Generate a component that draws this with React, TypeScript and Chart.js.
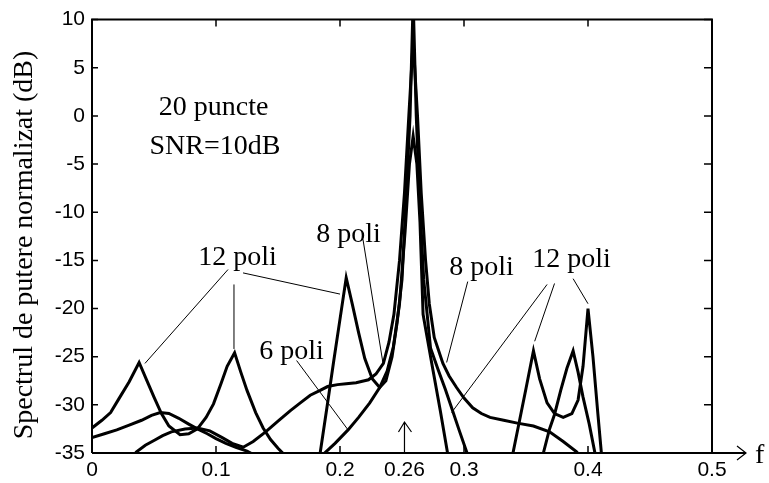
import React, { useEffect, useRef } from 'react';
import { Chart, registerables } from 'chart.js';

Chart.register(...registerables);

// 12 poles
const f12 = [0, 0.008, 0.015, 0.022, 0.03, 0.038, 0.044, 0.05, 0.056, 0.062, 0.071, 0.078, 0.085, 0.092, 0.098, 0.104, 0.109, 0.115, 0.12, 0.125, 0.132, 0.138, 0.144, 0.15, 0.156, 0.165, 0.175, 0.184, 0.19, 0.195, 0.2, 0.205, 0.21, 0.215, 0.22, 0.226, 0.232, 0.237, 0.242, 0.246, 0.25, 0.2535, 0.2565, 0.259, 0.2615, 0.264, 0.2675, 0.273, 0.279, 0.285, 0.29, 0.296, 0.303, 0.31, 0.32, 0.33, 0.3395, 0.345, 0.35, 0.356, 0.361, 0.367, 0.373, 0.38, 0.387, 0.392, 0.396, 0.4, 0.404, 0.408, 0.411, 0.416];
const p12 = [-32.4, -31.6, -30.8, -29.3, -27.6, -25.6, -27.4, -29.2, -30.9, -32.2, -33.1, -33.0, -32.5, -31.3, -29.9, -27.8, -26.0, -24.6, -26.6, -28.5, -30.8, -32.4, -33.6, -34.5, -35.3, -37, -37.5, -35.0, -29.8, -25.4, -21.1, -16.8, -19.6, -22.5, -25.2, -27.3, -28.2, -27.5, -25, -21.5, -17, -8, 0, 12, 0, -8, -17, -24.1, -26.3, -28.4, -30.3, -32.6, -35.2, -37.5, -38.5, -37.5, -35.0, -31.5, -28.3, -24.4, -27.3, -29.8, -30.9, -31.3, -30.9, -29.5, -26, -20, -25, -31, -35.3, -40];

// 8 poles
const f8 = [0, 0.02, 0.0357, 0.043, 0.05, 0.057, 0.064, 0.075, 0.085, 0.095, 0.105, 0.113, 0.122, 0.13, 0.14, 0.15, 0.16, 0.168, 0.176, 0.184, 0.19, 0.198, 0.205, 0.213, 0.223, 0.229, 0.235, 0.2395, 0.2435, 0.248, 0.252, 0.2555, 0.259, 0.2625, 0.2655, 0.269, 0.272, 0.276, 0.283, 0.288, 0.294, 0.3, 0.307, 0.314, 0.321, 0.332, 0.343, 0.356, 0.369, 0.38, 0.391, 0.4];
const p8 = [-40, -38, -34.9, -34.2, -33.7, -33.2, -32.8, -32.5, -32.4, -32.7, -33.4, -34.0, -34.4, -33.8, -32.8, -31.7, -30.6, -29.8, -29.0, -28.5, -28.1, -27.9, -27.8, -27.7, -27.4, -26.8, -25.7, -23.5, -20.6, -15, -8, 0, 7.8, 0, -8, -15, -19.5, -23, -25.7, -27, -28.2, -29.3, -30.3, -30.9, -31.3, -31.6, -31.9, -32.2, -32.8, -33.8, -34.9, -37];

// 6 poles
const f6 = [0, 0.01, 0.02, 0.03, 0.04, 0.048, 0.055, 0.062, 0.07, 0.078, 0.085, 0.093, 0.1, 0.108, 0.116, 0.125, 0.135, 0.15, 0.165, 0.178, 0.186, 0.196, 0.2065, 0.215, 0.224, 0.232, 0.238, 0.243, 0.248, 0.2525, 0.256, 0.259, 0.262, 0.2645, 0.267, 0.27, 0.275, 0.281, 0.287, 0.295, 0.31, 0.33, 0.35, 0.358, 0.364, 0.369, 0.373, 0.378, 0.383, 0.388, 0.392, 0.396, 0.401, 0.4056, 0.41];
const p6 = [-33.4, -33.0, -32.6, -32.1, -31.6, -31.1, -30.8, -30.9, -31.4, -32.0, -32.5, -33.0, -33.5, -34.0, -34.4, -34.8, -35.5, -37, -37.5, -36.5, -35.2, -34.0, -32.6, -31.3, -29.8, -28.2, -26.5, -24, -19.5, -12, -5, -2.1, -5, -11, -20.6, -22.8, -26.4, -30.7, -35.2, -38, -40, -40, -38, -36.5, -35, -32.5, -31.0, -28.5, -26.2, -24.4, -26.6, -29.2, -32, -35, -38];

const xTicks = [0, 0.1, 0.2, 0.3, 0.4, 0.5];
const xTickLabels = ['0', '0.1', '0.2', '0.3', '0.4', '0.5'];
const yTicks = [10, 5, 0, -5, -10, -15, -20, -25, -30, -35];
const yTickLabels = ['10', '5', '0', '-5', '-10', '-15', '-20', '-25', '-30', '-35'];

const markerF = 0.252;
const markerLabel = '0.26';
const xAxisName = 'f';
const yAxisName = 'Spectrul de putere normalizat (dB)';

// annotation texts (centre x, baseline y in data units)
const noteTexts = ['20 puncte', 'SNR=10dB', '12 poli', '8 poli', '6 poli', '8 poli', '12 poli'];
const noteF = [0.098, 0.0992, 0.1173, 0.2069, 0.1609, 0.3141, 0.3867];
const noteDb = [0.11, -4.0, -15.43, -13.07, -25.22, -16.47, -15.64];

// leader lines [f1, db1, f2, db2]
const leaderF1 = [0.1097, 0.1145, 0.1218, 0.2185, 0.165, 0.303, 0.367, 0.373, 0.388];
const leaderDb1 = [-15.95, -17.5, -16.3, -12.8, -25.4, -17.2, -17.5, -17.4, -16.9];
const leaderF2 = [0.0427, 0.1145, 0.2, 0.2347, 0.2065, 0.286, 0.29, 0.357, 0.4];
const leaderDb2 = [-25.7, -24.2, -18.5, -25.7, -32.6, -25.6, -30.8, -23.4, -19.5];

const SERIF = '"Liberation Serif", "Times New Roman", serif';
const SANS = '"Liberation Sans", Arial, sans-serif';

const decorPlugin = {
  id: 'decor',
  afterDraw(chart: any) {
    const { ctx, chartArea, scales } = chart;
    const xs = scales.x;
    const ys = scales.y;
    const { left, right, top, bottom } = chartArea;
    ctx.save();
    ctx.strokeStyle = '#000';
    ctx.fillStyle = '#000';

    // box
    ctx.lineWidth = 2;
    ctx.beginPath();
    ctx.moveTo(left, bottom);
    ctx.lineTo(left, top);
    ctx.lineTo(right, top);
    ctx.lineTo(right, bottom);
    ctx.stroke();
    // bottom axis extended with arrow
    ctx.beginPath();
    ctx.moveTo(left, bottom);
    ctx.lineTo(right + 34, bottom);
    ctx.stroke();
    ctx.lineWidth = 1.2;
    ctx.beginPath();
    ctx.moveTo(right + 25, bottom - 7);
    ctx.lineTo(right + 34, bottom);
    ctx.lineTo(right + 25, bottom + 7);
    ctx.stroke();

    // inside ticks
    ctx.lineWidth = 1.5;
    const tl = 7;
    xTicks.forEach((v) => {
      const px = xs.getPixelForValue(v);
      ctx.beginPath();
      ctx.moveTo(px, bottom);
      ctx.lineTo(px, bottom - tl);
      ctx.moveTo(px, top);
      ctx.lineTo(px, top + tl);
      ctx.stroke();
    });
    yTicks.forEach((v) => {
      const py = ys.getPixelForValue(v);
      ctx.beginPath();
      ctx.moveTo(left, py);
      ctx.lineTo(left + 6, py);
      ctx.moveTo(right, py);
      ctx.lineTo(right - 8, py);
      ctx.stroke();
    });

    // 0.26 marker arrow
    const mx = xs.getPixelForValue(markerF);
    ctx.lineWidth = 1.2;
    ctx.beginPath();
    ctx.moveTo(mx, bottom);
    ctx.lineTo(mx, bottom - 31);
    ctx.moveTo(mx - 6, bottom - 21);
    ctx.lineTo(mx, bottom - 31);
    ctx.lineTo(mx + 7, bottom - 21);
    ctx.stroke();
    ctx.font = '21px ' + SANS;
    ctx.textAlign = 'center';
    ctx.textBaseline = 'middle';
    ctx.fillText(markerLabel, mx, bottom + 17);

    // axis name f
    ctx.font = '28px ' + SERIF;
    ctx.textAlign = 'left';
    ctx.textBaseline = 'alphabetic';
    ctx.fillText(xAxisName, right + 43, bottom + 10);

    // y title
    ctx.save();
    ctx.translate(25, 245);
    ctx.rotate(-Math.PI / 2);
    ctx.textAlign = 'center';
    ctx.textBaseline = 'middle';
    ctx.font = '28px ' + SERIF;
    ctx.fillText(yAxisName, 0, 0);
    ctx.restore();

    // leader lines
    ctx.lineWidth = 1;
    for (let i = 0; i < leaderF1.length; i++) {
      ctx.beginPath();
      ctx.moveTo(xs.getPixelForValue(leaderF1[i]), ys.getPixelForValue(leaderDb1[i]));
      ctx.lineTo(xs.getPixelForValue(leaderF2[i]), ys.getPixelForValue(leaderDb2[i]));
      ctx.stroke();
    }

    // note texts
    ctx.font = '28px ' + SERIF;
    ctx.textAlign = 'center';
    ctx.textBaseline = 'alphabetic';
    for (let i = 0; i < noteTexts.length; i++) {
      ctx.fillText(noteTexts[i], xs.getPixelForValue(noteF[i]), ys.getPixelForValue(noteDb[i]));
    }
    ctx.restore();
  },
};

function series(label: string, fx: number[], py: number[]) {
  return {
    label,
    data: fx.map((x, i) => ({ x, y: py[i] })),
    showLine: true,
    borderColor: '#000',
    backgroundColor: '#000',
    borderWidth: 3,
    pointRadius: 0,
    tension: 0,
    fill: false,
  };
}

export default function App() {
  const ref = useRef<HTMLCanvasElement | null>(null);
  useEffect(() => {
    if (!ref.current) return;
    const chart = new Chart(ref.current, {
      type: 'scatter',
      data: {
        datasets: [series('12 poli', f12, p12), series('8 poli', f8, p8), series('6 poli', f6, p6)],
      },
      options: {
        animation: false,
        responsive: true,
        maintainAspectRatio: false,
        layout: { padding: { top: 16, right: 57, left: 0, bottom: 0 } },
        plugins: { legend: { display: false }, tooltip: { enabled: false } },
        scales: {
          x: {
            type: 'linear',
            min: 0,
            max: 0.5,
            afterBuildTicks: (s: any) => {
              s.ticks = xTicks.map((v) => ({ value: v }));
            },
            afterFit: (s: any) => {
              s.height = 30;
            },
            ticks: {
              callback: (_v: any, i: number) => xTickLabels[i],
              font: { family: SANS, size: 21 },
              color: '#000',
              padding: 5,
              maxRotation: 0,
              autoSkip: false,
            },
            grid: { display: false, drawTicks: false },
            border: { display: false },
          },
          y: {
            type: 'linear',
            min: -35,
            max: 10,
            afterBuildTicks: (s: any) => {
              s.ticks = yTicks.map((v) => ({ value: v }));
            },
            afterFit: (s: any) => {
              s.width = 92;
            },
            ticks: {
              callback: (_v: any, i: number) => yTickLabels[i],
              font: { family: SANS, size: 21 },
              color: '#000',
              padding: 7,
              autoSkip: false,
            },
            grid: { display: false, drawTicks: false },
            border: { display: false },
          },
        },
      },
      plugins: [decorPlugin],
    } as any);
    return () => chart.destroy();
  }, []);

  return (
    <div style={{ position: 'fixed', left: 0, top: 0, width: 769, height: 483, background: '#fff' }}>
      <canvas ref={ref} />
    </div>
  );
}
